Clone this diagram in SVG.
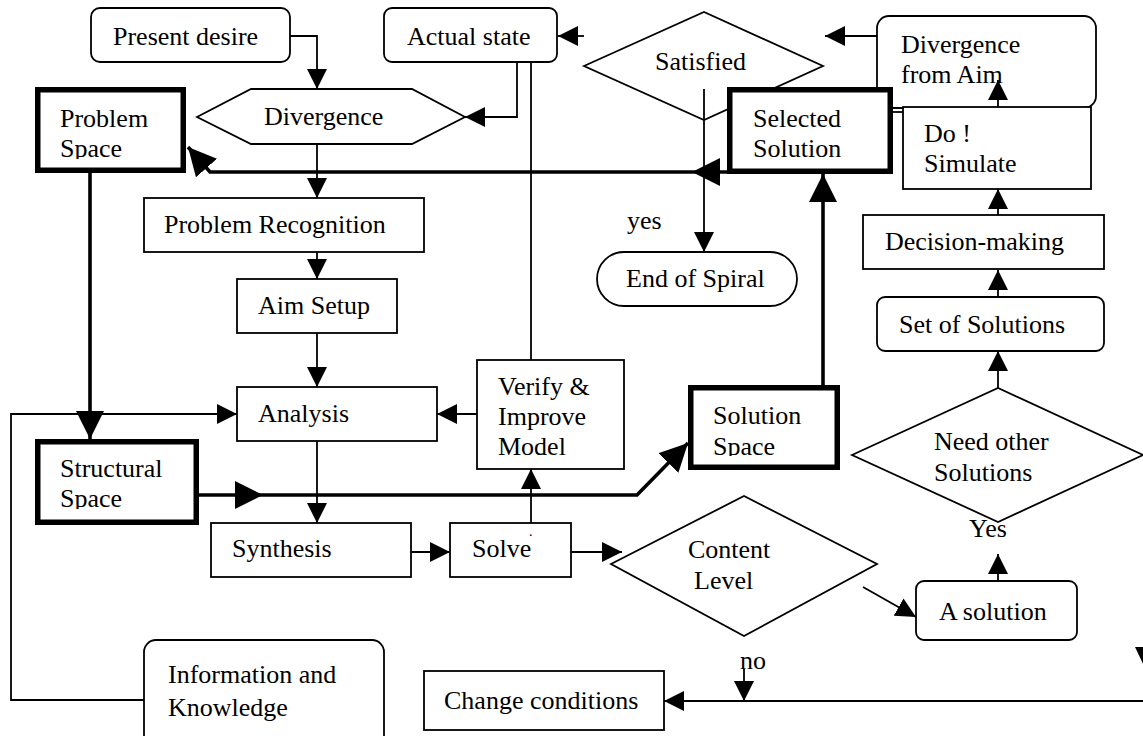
<svg xmlns="http://www.w3.org/2000/svg" width="1143" height="736" viewBox="0 0 1143 736">
<style>
.n{fill:#fff;stroke:#000;stroke-width:1.8}
.nt{fill:none;stroke:#000;stroke-width:1.8}
.k{fill:#fff;stroke:#000;stroke-width:5.5}
.t{font-family:"Liberation Serif","Times New Roman",serif;font-size:26px;fill:#000}
.c{fill:none;stroke:#000;stroke-width:1.8}
.ck{fill:none;stroke:#000;stroke-width:3.6}
</style>
<defs>
<marker id="a" viewBox="0 0 20 20" refX="20" refY="10" markerWidth="20" markerHeight="20" orient="auto" markerUnits="userSpaceOnUse"><path d="M0,0 L20,10 L0,20 z" fill="#000"/></marker>
<marker id="b" viewBox="0 0 28 28" refX="28" refY="14" markerWidth="28" markerHeight="28" orient="auto" markerUnits="userSpaceOnUse"><path d="M0,0 L28,14 L0,28 z" fill="#000"/></marker>
<clipPath id="cp1"><rect x="40" y="92" width="141" height="67"/></clipPath>
<clipPath id="cp2"><rect x="40" y="444" width="154" height="65"/></clipPath>
<clipPath id="cp3"><rect x="693" y="390" width="142" height="66"/></clipPath>
</defs>
<rect width="1143" height="736" fill="#fff"/>
<g id="present-desire"><rect class="n" x="91" y="8" width="199" height="54" rx="9"/><text class="t" x="113" y="45">Present desire</text></g>
<g id="actual-state"><rect class="n" x="384" y="8" width="173" height="54" rx="8"/><text class="t" x="407" y="45">Actual state</text></g>
<g id="satisfied"><polygon class="nt" points="584,66 704,12 823,66 704,120"/><text class="t" x="655" y="70">Satisfied</text></g>
<g id="divergence-from-aim"><rect class="n" x="877" y="16" width="219" height="92" rx="12"/><text class="t" x="901" y="53">Divergence</text><text class="t" x="901" y="83">from Aim</text></g>
<g id="divergence"><polygon class="n" points="197,117 251,89 412,89 465,117 412,144 251,144"/><text class="t" x="264" y="125">Divergence</text></g>
<g id="problem-space"><rect class="k" x="37.75" y="89.75" width="145.5" height="80.5"/><g clip-path="url(#cp1)"><text class="t" x="60" y="127">Problem</text><text class="t" x="60" y="157">Space</text></g></g>
<g id="selected-solution"><rect class="k" x="729.75" y="89.75" width="160.5" height="81.5"/><text class="t" x="753" y="127">Selected</text><text class="t" x="753" y="157">Solution</text></g>
<g id="do-simulate"><rect class="n" x="903" y="107" width="188" height="82"/><text class="t" x="924" y="142">Do !</text><text class="t" x="924" y="172">Simulate</text></g>
<g id="problem-recognition"><rect class="n" x="144" y="198" width="280" height="54"/><text class="t" x="164" y="233">Problem Recognition</text></g>
<g id="end-of-spiral"><rect class="n" x="597" y="252" width="200" height="54" rx="27"/><text class="t" x="626" y="287">End of Spiral</text></g>
<g id="decision-making"><rect class="n" x="863" y="215" width="241" height="54"/><text class="t" x="885" y="250">Decision-making</text></g>
<g id="aim-setup"><rect class="n" x="237" y="279" width="160" height="54"/><text class="t" x="258" y="314">Aim Setup</text></g>
<g id="set-of-solutions"><rect class="n" x="877" y="297" width="227" height="54" rx="8"/><text class="t" x="899" y="333">Set of Solutions</text></g>
<g id="verify"><rect class="n" x="477" y="360" width="147" height="109"/><text class="t" x="498" y="395">Verify &amp;</text><text class="t" x="498" y="425">Improve</text><text class="t" x="498" y="455">Model</text></g>
<g id="analysis"><rect class="n" x="237" y="387" width="200" height="54"/><text class="t" x="258" y="422">Analysis</text></g>
<g id="solution-space"><rect class="k" x="690.75" y="387.75" width="146.5" height="79.5"/><g clip-path="url(#cp3)"><text class="t" x="713" y="424">Solution</text><text class="t" x="713" y="455">Space</text></g></g>
<g id="need-other"><polygon class="n" points="852,455 998,388 1143,455 998,522"/><text class="t" x="934" y="450">Need other</text><text class="t" x="934" y="481">Solutions</text></g>
<g id="structural-space"><rect class="k" x="37.75" y="441.75" width="158.5" height="80.5"/><g clip-path="url(#cp2)"><text class="t" x="60" y="477">Structural</text><text class="t" x="60" y="507">Space</text></g></g>
<g id="synthesis"><rect class="n" x="211" y="523" width="200" height="54"/><text class="t" x="232" y="557">Synthesis</text></g>
<g id="solve"><rect class="n" x="450" y="523" width="121" height="54"/><text class="t" x="472" y="557">Solve</text><text class="t" x="529" y="536" style="font-size:14px">.</text></g>
<g id="content-level"><polygon class="n" points="611,564 744,496 877,564 744,636"/><text class="t" x="688" y="558">Content</text><text class="t" x="694" y="589">Level</text></g>
<g id="a-solution"><rect class="n" x="916" y="581" width="161" height="59" rx="8"/><text class="t" x="939" y="620">A solution</text></g>
<g id="information"><rect class="n" x="144" y="640" width="240" height="115" rx="12"/><text class="t" x="168" y="683">Information and</text><text class="t" x="168" y="716">Knowledge</text></g>
<g id="change-conditions"><rect class="n" x="424" y="671" width="240" height="59"/><text class="t" x="444" y="709">Change conditions</text></g>
<g id="labels"><text class="t" x="627" y="229">yes</text><text class="t" x="740" y="669">no</text><text class="t" x="969" y="537">Yes</text></g>
<g id="connectors">
<path class="c" d="M290,36 H317 V89" marker-end="url(#a)"/>
<path class="c" d="M517,62 V117 H465" marker-end="url(#a)"/>
<path class="c" d="M584,36 H558" marker-end="url(#a)"/>
<path class="c" d="M531,62 V360"/>
<path class="c" d="M877,36 H825" marker-end="url(#a)"/>
<path class="c" d="M704,89 V252" marker-end="url(#a)"/>
<path class="c" d="M893,112 H903"/>
<path class="c" d="M998,107 V80" marker-end="url(#a)"/>
<path class="c" d="M998,215 V189" marker-end="url(#a)"/>
<path class="c" d="M998,297 V270" marker-end="url(#a)"/>
<path class="c" d="M998,388 V351" marker-end="url(#a)"/>
<path class="c" d="M998,581 V554" marker-end="url(#a)"/>
<path class="c" d="M317,144 V198" marker-end="url(#a)"/>
<path class="c" d="M317,252 V279" marker-end="url(#a)"/>
<path class="c" d="M317,333 V387" marker-end="url(#a)"/>
<path class="c" d="M317,441 V523" marker-end="url(#a)"/>
<path class="c" d="M411,552 H450" marker-end="url(#a)"/>
<path class="c" d="M531,523 V469" marker-end="url(#a)"/>
<path class="c" d="M477,414 H437" marker-end="url(#a)"/>
<path class="c" d="M571,552 H622" marker-end="url(#a)"/>
<path class="c" d="M863,587 L916,617" marker-end="url(#a)"/>
<path class="c" d="M144,700 H11 V414 H237" marker-end="url(#a)"/>
<path class="c" d="M1143,701 H664" marker-end="url(#a)"/>
<path class="c" d="M744,669 V701" marker-end="url(#a)"/>
<polygon points="1145,668 1135,647 1155,647" fill="#000"/>
<path class="ck" d="M90,173 V439" marker-end="url(#b)"/>
<path class="ck" d="M199,495 H263" marker-end="url(#b)"/>
<path class="ck" d="M263,495 H637 L688,443" marker-end="url(#b)"/>
<path class="ck" d="M823,385 V174" marker-end="url(#b)"/>
<path class="ck" d="M729,172 H692" marker-end="url(#b)"/>
<path class="ck" d="M692,172 H210 L188,147" marker-end="url(#b)"/>
</g>
</svg>
